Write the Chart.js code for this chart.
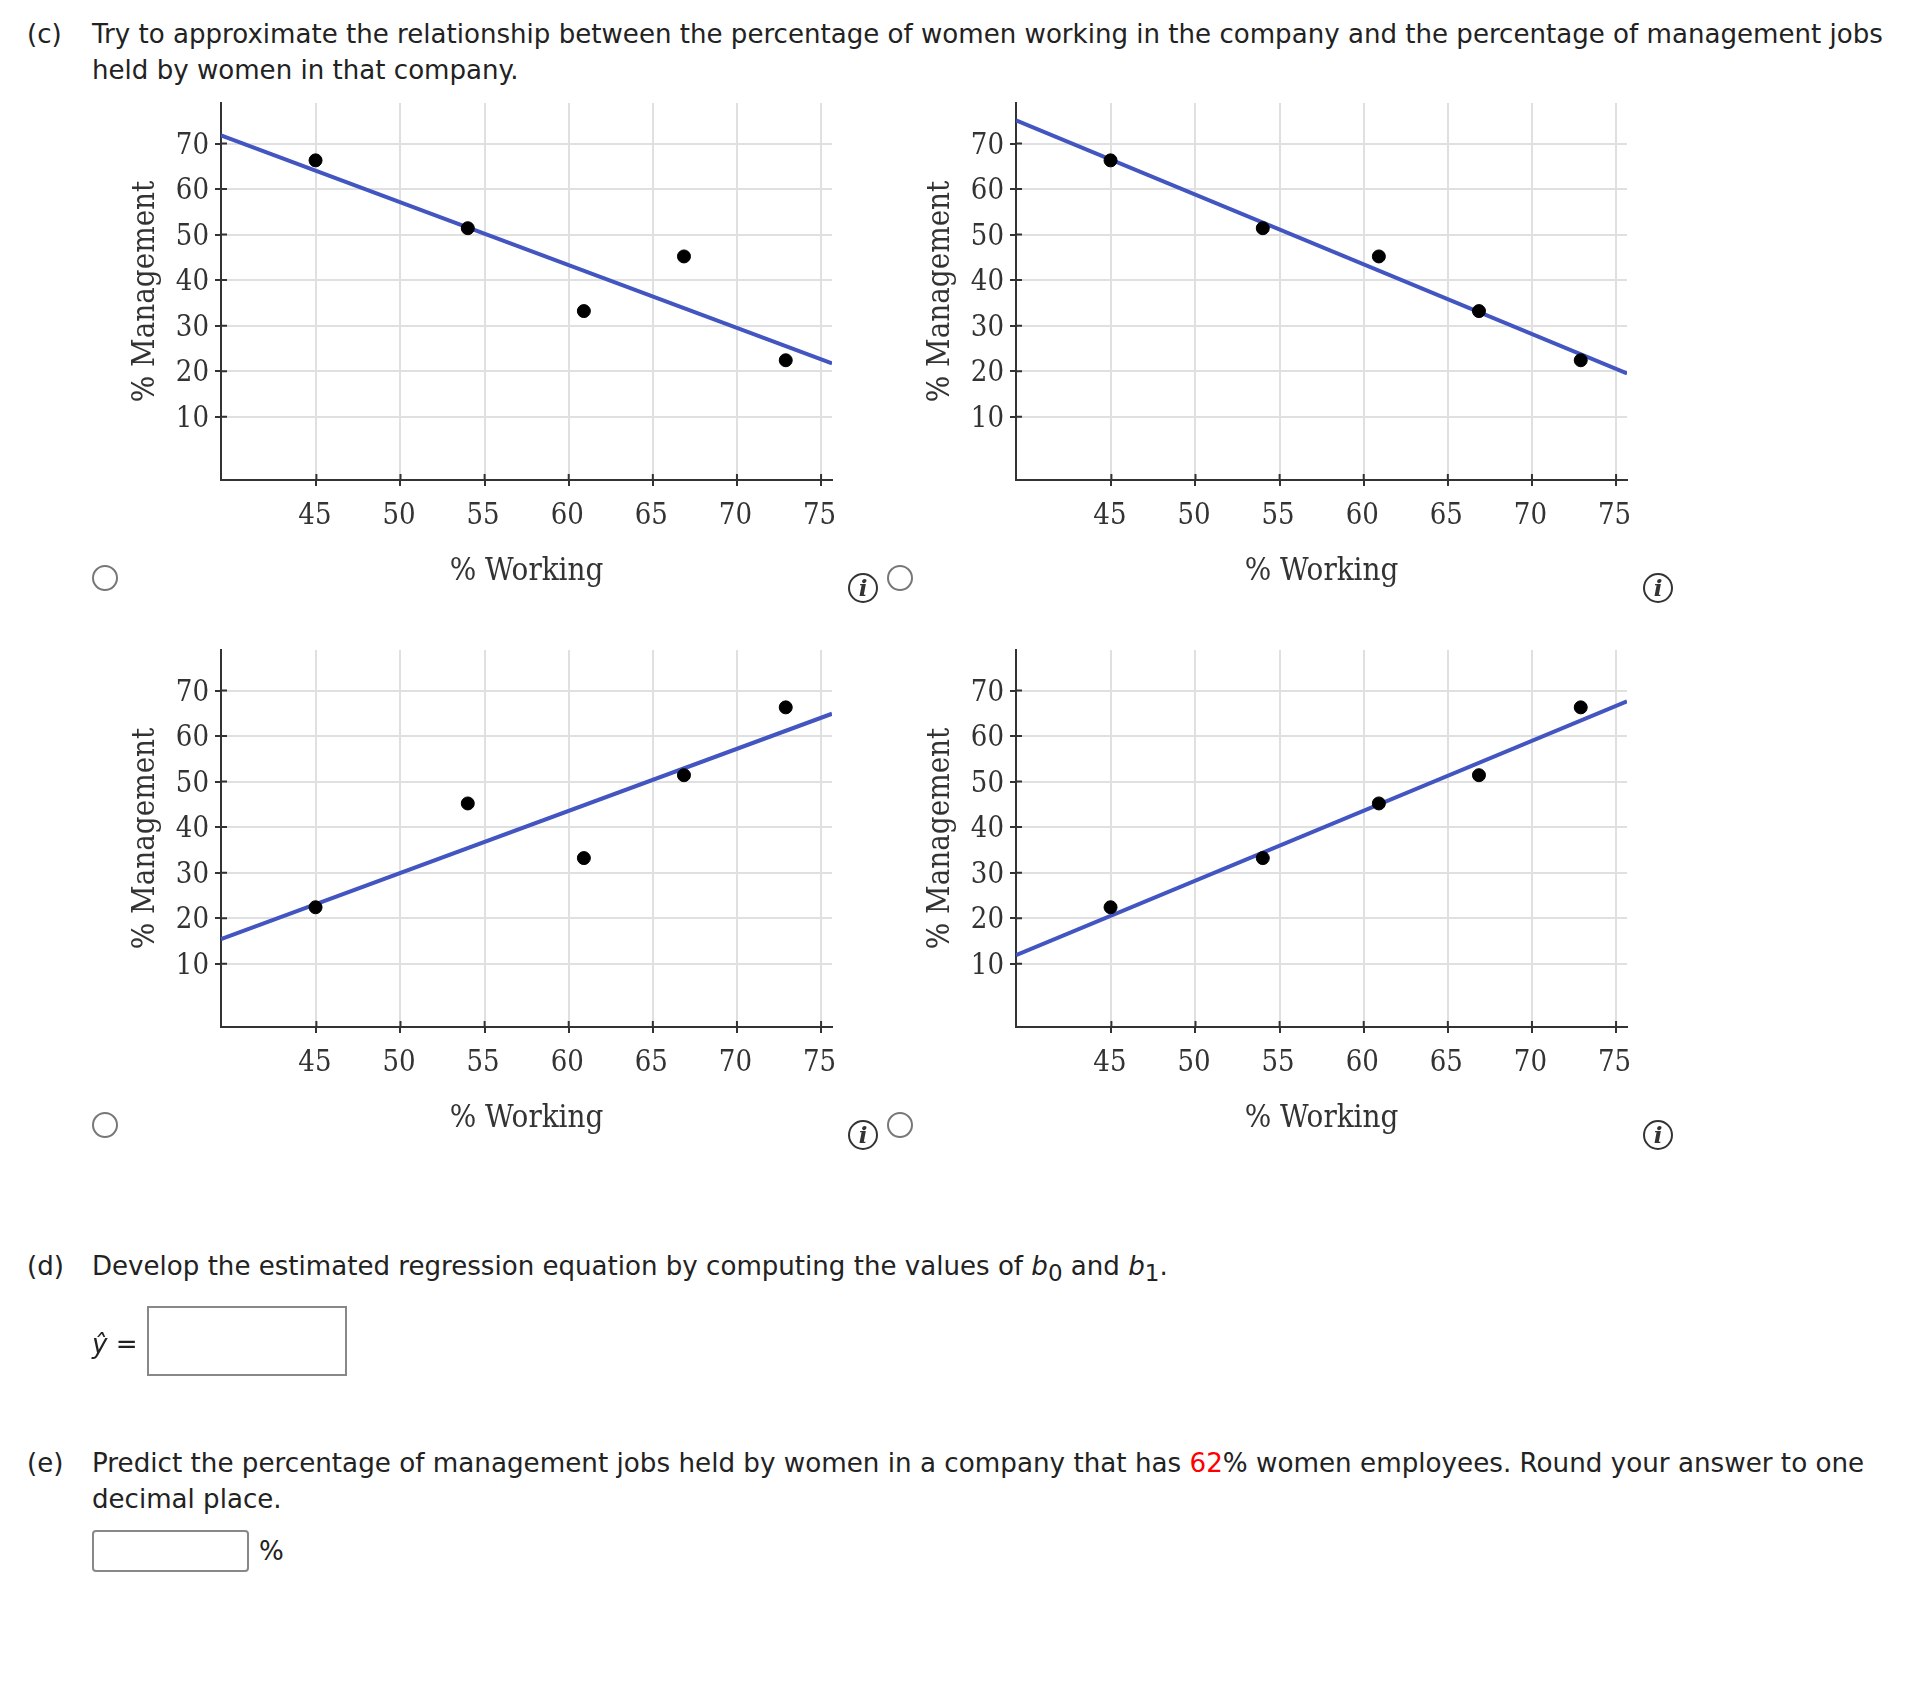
<!DOCTYPE html>
<html>
<head>
<meta charset="utf-8">
<script src="https://cdn.jsdelivr.net/npm/chart.js@4"></script>
<style>
  html, body { margin: 0; padding: 0; background: #fff; }
  #page { position: relative; width: 1924px; height: 1702px; overflow: hidden; font-family: "DejaVu Sans", sans-serif; font-size: 26.08px; color: #222; }
  .t { position: absolute; line-height: 30px; white-space: nowrap; }
  .t i { font-family: "DejaVu Sans", sans-serif; }
  sub { font-size: 23px; line-height: 0; }
  canvas { position: absolute; filter: blur(0.7px); }
  .radio { position: absolute; width: 22px; height: 22px; border: 2px solid #777; border-radius: 50%; }
  .info { position: absolute; width: 26px; height: 26px; border: 2px solid #333; border-radius: 50%; font: italic bold 23px/26px "DejaVu Serif", serif; text-align: center; color: #333; }
  .box { position: absolute; border: 2px solid #888; box-sizing: border-box; }
</style>
</head>
<body>
<div id="page">
  <div class="t" style="left:27px;top:19px">(c)</div>
  <div class="t" style="left:92px;top:19px">Try to approximate the relationship between the percentage of women working in the company and the percentage of management jobs</div>
  <div class="t" style="left:92px;top:55px">held by women in that company.</div>

  <canvas id="chartA" style="left:110px;top:90px"></canvas>
  <canvas id="chartB" style="left:905px;top:90px"></canvas>
  <canvas id="chartC" style="left:110px;top:637px"></canvas>
  <canvas id="chartD" style="left:905px;top:637px"></canvas>

  <div class="radio" style="left:92px;top:565px"></div>
  <div class="radio" style="left:887px;top:565px"></div>
  <div class="radio" style="left:92px;top:1112px"></div>
  <div class="radio" style="left:887px;top:1112px"></div>
  <div class="info" style="left:848px;top:573px">i</div>
  <div class="info" style="left:1643px;top:573px">i</div>
  <div class="info" style="left:848px;top:1120px">i</div>
  <div class="info" style="left:1643px;top:1120px">i</div>

  <div class="t" style="left:27px;top:1251px">(d)</div>
  <div class="t" style="left:92px;top:1251px">Develop the estimated regression equation by computing the values of <i>b</i><sub>0</sub> and <i>b</i><sub>1</sub>.</div>
  <div class="t" style="left:92px;top:1329px"><i>ŷ</i> =</div>
  <div class="box" style="left:147px;top:1306px;width:200px;height:70px"></div>

  <div class="t" style="left:27px;top:1448px">(e)</div>
  <div class="t" style="left:92px;top:1448px;font-size:26.2px">Predict the percentage of management jobs held by women in a company that has <span style="color:#f00">62</span>% women employees. Round your answer to one</div>
  <div class="t" style="left:92px;top:1484px">decimal place.</div>
  <div class="box" style="left:92px;top:1530px;width:157px;height:42px;border-radius:4px"></div>
  <div class="t" style="left:259px;top:1536px">%</div>
</div>

<script>
const working = [44.95, 54, 60.9, 66.85, 72.9];
const mgmtA = [66.3, 51.4, 33.2, 45.2, 22.4];
const mgmtB = [66.3, 51.4, 45.2, 33.2, 22.4];
const mgmtC = [22.4, 45.2, 33.2, 51.4, 66.3];
const mgmtD = [22.4, 33.2, 45.2, 51.4, 66.3];

// fitted line ends, read at the two edges of the x axis
const lineX = [39.33, 75.65];
const lineA = [71.8, 21.7];
const lineB = [75.1, 19.5];
const lineC = [15.4, 64.9];
const lineD = [11.9, 67.6];

const xTicks = [45, 50, 55, 60, 65, 70, 75];
const yTicks = [10, 20, 30, 40, 50, 60, 70];
const xTitle = '% Working';
const yTitle = '% Management';

const tickFont = { family: "'DejaVu Serif Condensed', 'DejaVu Serif', serif", size: 29 };
const titleFont = { family: "'DejaVu Serif Condensed', 'DejaVu Serif', serif", size: 31 };

// ticks in the original cross the axis line a little
const crossTicks = {
  id: 'crossTicks',
  afterDatasetsDraw(chart) {
    const { ctx, scales: { x, y } } = chart;
    ctx.save();
    ctx.strokeStyle = '#333';
    ctx.lineWidth = 2;
    ctx.beginPath();
    xTicks.forEach(v => {
      const px = x.getPixelForValue(v);
      ctx.moveTo(px, y.bottom);
      ctx.lineTo(px, y.bottom - 6);
    });
    yTicks.forEach(v => {
      const py = y.getPixelForValue(v);
      ctx.moveTo(x.left, py);
      ctx.lineTo(x.left + 6, py);
    });
    ctx.stroke();
    ctx.restore();
  }
};

function makeChart(id, mgmt, line) {
  const canvas = document.getElementById(id);
  canvas.width = 780;
  canvas.height = 520;
  new Chart(canvas.getContext('2d'), {
    type: 'scatter',
    data: {
      datasets: [
        {
          label: 'Data',
          data: working.map((w, i) => ({ x: w, y: mgmt[i] })),
          backgroundColor: '#000',
          borderColor: '#000',
          pointRadius: 6.5,
          order: 1
        },
        {
          label: 'Fit',
          data: lineX.map((w, i) => ({ x: w, y: line[i] })),
          showLine: true,
          borderColor: '#4355c0',
          borderWidth: 4,
          pointRadius: 0,
          order: 2
        }
      ]
    },
    options: {
      responsive: false,
      animation: false,
      layout: { padding: { left: 0, right: 58, top: 13, bottom: 19 } },
      plugins: { legend: { display: false }, tooltip: { enabled: false } },
      scales: {
        x: {
          type: 'linear',
          min: lineX[0],
          max: lineX[1],
          afterBuildTicks: s => { s.ticks = xTicks.map(v => ({ value: v })); },
          afterFit: s => { s.height = 111; },
          grid: { color: '#e0e0e0', lineWidth: 2, tickColor: '#333', tickWidth: 2, tickLength: 6 },
          border: { color: '#333', width: 2 },
          ticks: { color: '#333', font: tickFont, padding: 13, maxRotation: 0, autoSkip: false, labelOffset: -1.5 },
          title: { display: true, text: xTitle, color: '#333', font: titleFont, padding: 0 }
        },
        y: {
          type: 'linear',
          min: -3.9,
          max: 78.9,
          afterBuildTicks: s => { s.ticks = yTicks.map(v => ({ value: v })); },
          // drop the half-label margin chart.js reserves above the plot
          afterFit: s => { s.width = 111; s.paddingTop = 0; s.paddingBottom = 0; },
          grid: { color: '#e0e0e0', lineWidth: 2, tickColor: '#333', tickWidth: 2, tickLength: 6 },
          border: { color: '#333', width: 2 },
          ticks: { color: '#333', font: tickFont, padding: 6, autoSkip: false, labelOffset: 2.5 },
          title: { display: true, text: yTitle, color: '#333', font: titleFont, padding: { top: 17, bottom: 0 } }
        }
      }
    },
    plugins: [crossTicks]
  });
}

makeChart('chartA', mgmtA, lineA);
makeChart('chartB', mgmtB, lineB);
makeChart('chartC', mgmtC, lineC);
makeChart('chartD', mgmtD, lineD);
</script>
</body>
</html>
